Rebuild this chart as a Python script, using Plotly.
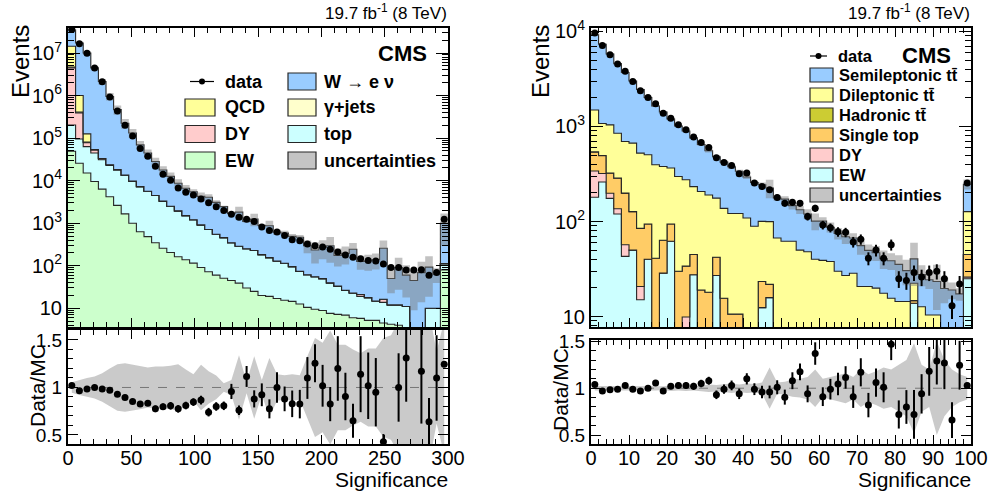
import numpy as np
import plotly.graph_objects as go

# ---------------- LEFT PANEL DATA (W -> e nu selection) ----------------
left_edges = list(range(0, 301, 6))
left_EW = [49000, 25700, 15100, 9550, 6310, 4170, 2630, 1660, 1000, 630, 484, 347, 257, 204, 162, 138, 115, 91, 72, 60,
           51, 45, 39, 30, 25, 20, 19, 17, 15.5, 14.5, 12.6, 10.5, 9.5, 8.9, 7.6, 7.2, 6.9, 6.0, 5.8, 5.2,
           5.2, 4.5, 4.2, 4.0, 3.5, 1.2, 1.0, 3.2, 3.2, 80]
left_top = [155000, 69800, 48000, 35150, 24600, 18700, 15200, 11800, 8770, 6610, 5140, 4120, 3050, 2300, 1790, 1370,
            1085, 821, 636, 490, 406, 302, 249, 221, 204, 162, 136, 112, 99, 81, 61, 51, 45.5, 41, 32, 26, 19.4, 16.9,
            13.2, 12.6, 9.6, 9.3, 7.8, 8, 7.5, 0.8, 1.0, 6.8, 6.8, 32]
left_DY = [4270000, 293500, 14500, 7800, 2000, 800, 300, 0, 0, 0, 0, 0, 0, 0, 0, 0, 0, 0, 0, 0,
           0, 0, 0, 0, 0, 0, 0, 0, 0, 0, 0, 0, 0, 0, 0, 0, 0, 0, 2, 0, 0, 2.5, 0, 0, 0, 0, 0, 0, 0, 0]
left_gjets = [200000, 20000, 3000, 500] + [0] * 46
left_QCD = [9780000, 591000, 45400, 1000, 300] + [0] * 45
left_W = [20200000, 16200000, 9870000, 4410000, 2100000, 930000, 450000, 210000, 122000, 62000, 39000, 23700, 14500,
          10100, 6760, 5100, 4300, 3360, 3360, 2540, 1990, 1350, 1530, 850, 1030, 700, 716, 488, 474, 394, 394, 233,
          179, 219, 255, 141, 169, 222, 105, 111, 123, 241, 38, 79, 49, 43, 67, 83, 53, 877]
left_data = [35500000, 16600000, 9850000, 4470000, 2100000, 927000, 435000, 200000, 112000, 57000, 37300, 21800, 14200,
             10200, 6750, 5350, 4630, 3720, 3020, 2450, 2000, 1620, 1380, 1230, 1100, 813, 676, 617, 513, 407, 389,
             324, 295, 275, 245, 209, 178, 158, 145, 132, 129, 110, 91, 91, 79, 79, 81, 60, 69, 1230]
left_ratio = [1.02, 0.965, 0.985, 1.0, 0.985, 0.97, 0.93, 0.895, 0.853, 0.825, 0.835, 0.775, 0.797, 0.807, 0.775,
              0.81, 0.846, 0.867, 0.74, 0.8, 0.807, 0.958, 0.76, 1.116, 0.88, 0.923, 0.775, 1.0, 0.88, 0.828, 0.825,
              1.1, 1.256, 1.018, 0.825, 1.2, 0.905, 0.65, 1.14, 1.018, 0.95, 0.43, None, 1.0, 1.31, None, 1.17, 0.64,
              1.1, 1.245]
left_ratio_err = [0.01, 0.01, 0.01, 0.01, 0.01, 0.012, 0.015, 0.015, 0.02, 0.02, 0.025, 0.035, 0.035, 0.04, 0.04,
                  0.04, 0.04, 0.045, 0.045, 0.045, 0.045, 0.08, 0.05, 0.11, 0.09, 0.12, 0.1, 0.16, 0.13, 0.14, 0.15,
                  0.22, 0.2, 0.22, 0.18, 0.34, 0.25, 0.18, 0.4, 0.35, 0.36, 0.08, 0, 0.36, 0.46, 0, 0.55, 0.25, 0.45,
                  0.03]
left_band = [0.055, 0.08, 0.1, 0.115, 0.15, 0.2, 0.245, 0.255, 0.24, 0.23, 0.21, 0.22, 0.22, 0.23, 0.245, 0.19, 0.14,
             0.24, 0.17, 0.125, 0.045, 0.08, 0.34, 0.06, 0.33, 0.08, 0.31, 0.14, 0.13, 0.14, 0.13, 0.33, 0.52, 0.47,
             0.6, 0.45, 0.45, 0.4, 0.36, 0.41, 0.41, 0.52, 0.55, 0.7, 0.7, 0.8, 0.8, 0.8, 0.38, 0.7]

# ---------------- RIGHT PANEL DATA (ttbar selection) ----------------
right_edges = list(range(0, 101, 2))
right_EW = [180, 260, 175, 120, 43, 50, 15, 40, 0, 28.6, 62, 0, 0, 27.5, 0, 0, 27, 0, 0, 0, 0, 0, 12.4, 15.8] + \
           [0] * 18 + [13.8] + [0] * 6 + [25]
right_DY = [160, 60, 23, 16, 14, 0, 5.7, 0, 0, 0, 0, 0, 9.9] + [0] * 36 + [1]
right_ST = [196, 171, 124, 149, 142, 77, 64, 54, 41, 35, 32, 30, 24, 17.5, 19, 18, 15, 15.6, 10.6, 10.6, 0, 0, 11, 6] + \
           [0] * 18 + [0.9] + [0] * 6 + [19]
right_had = [5, 3, 2, 1] + [0] * 46
right_dilep = [949, 581, 715, 563, 496, 541, 440, 410, 354, 316, 271, 268, 241, 188, 188, 172, 134, 122, 111, 111, 109,
               89, 77, 78, 67, 62, 62, 50, 48, 40, 39, 38, 30, 27, 28.5, 20.7, 20.7, 19.9, 17.6, 15.6, 14.4, 14.4, 7.7,
               12.7, 10.4, 10.4, 0, 0, 0, 82]
right_semi = [7730, 6265, 4740, 3739, 2995, 2342, 1925, 1516, 1245, 1040, 835, 712, 621, 525, 440, 366, 304, 284, 255,
              216, 185, 168, 143, 125, 110, 110, 85, 83, 72, 61, 62, 49, 45, 42, 38.5, 35, 29, 27, 23, 23, 21, 16, 18,
              15, 14, 13, 19.7, 19, 17.3, 120]
right_data = [9600, 7130, 5690, 4540, 3800, 2980, 2380, 2020, 1730, 1380, 1220, 1040, 923, 773, 679, 601, 468, 418, 388,
              318, 323, 254, 233, 216, 179, 156, 159, 156, 113, 138, 92, 86, 78, 77, 61, 65, 41, 50, 41, 57, 25, 24, 29,
              26, 29, 30, 25, 13, 22, 254]
right_ratio = [1.04, 0.97, 0.985, 0.99, 1.03, 0.99, 0.97, 1.0, 1.055, 0.97, 1.02, 1.03, 1.03, 1.02, 1.05, 1.08, 0.93,
               0.99, 1.03, 0.94, 1.10, 0.99, 0.96, 0.96, 1.01, 0.905, 1.08, 1.175, 0.94, 1.37, 0.91, 0.99, 1.045, 1.115,
               0.91, 1.17, 0.82, 1.06, 1.01, 1.47, 0.72, 0.80, 0.72, 0.94, 1.18, 1.29, 1.27, 0.66, 1.245, 1.03]
right_ratio_err = [0.012, 0.013, 0.015, 0.016, 0.018, 0.02, 0.022, 0.024, 0.026, 0.028, 0.03, 0.032, 0.034, 0.037,
                   0.04, 0.042, 0.046, 0.05, 0.052, 0.056, 0.06, 0.063, 0.066, 0.068, 0.075, 0.08, 0.09, 0.09, 0.09,
                   0.12, 0.1, 0.11, 0.12, 0.12, 0.12, 0.15, 0.13, 0.15, 0.16, 0.17, 0.15, 0.18, 0.26, 0.21, 0.26, 0.25,
                   0.28, 0.19, 0.26, 0.03]
right_band = [0.025, 0.025, 0.02, 0.02, 0.025, 0.02, 0.02, 0.025, 0.025, 0.02, 0.03, 0.025, 0.03, 0.025, 0.03, 0.04,
              0.035, 0.04, 0.05, 0.04, 0.05, 0.045, 0.06, 0.22, 0.06, 0.07, 0.09, 0.1, 0.12, 0.2, 0.1, 0.12, 0.14, 0.16,
              0.12, 0.2, 0.15, 0.18, 0.22, 0.2, 0.25, 0.3, 0.48, 0.25, 0.2, 0.5, 0.3, 0.2, 0.15, 0.12]

FONT = "Liberation Sans, Arial, Helvetica, sans-serif"
LINE = "#262626"

fig = go.Figure()


def add_panel(edges, comps, colors, data, ratio, ratio_err, band, xa, ya, xr, yr):
    edges = np.array(edges, dtype=float)
    centers = 0.5 * (edges[:-1] + edges[1:])
    n = len(centers)
    floor = 1e-3
    fig.add_trace(go.Scatter(x=edges, y=[floor] * (n + 1), mode="lines", line=dict(width=0, shape="hv"),
                             xaxis=xa, yaxis=ya, showlegend=False, hoverinfo="skip"))
    cum = np.zeros(n)
    for comp, col in zip(comps, colors):
        cum = cum + np.array(comp, dtype=float)
        y = np.maximum(cum, floor)
        fig.add_trace(go.Scatter(x=edges, y=list(y) + [y[-1]], mode="lines",
                                 line=dict(shape="hv", color=LINE, width=1.1),
                                 fill="tonexty", fillcolor=col, xaxis=xa, yaxis=ya,
                                 showlegend=False, hoverinfo="skip"))
    total = cum
    rel = np.array(band)
    lo = total * (1 - rel)
    hi = total * (1 + rel)
    fig.add_trace(go.Scatter(x=edges, y=list(lo) + [lo[-1]], mode="lines", line=dict(width=0, shape="hv"),
                             xaxis=xa, yaxis=ya, showlegend=False, hoverinfo="skip"))
    fig.add_trace(go.Scatter(x=edges, y=list(hi) + [hi[-1]], mode="lines", line=dict(width=0, shape="hv"),
                             fill="tonexty", fillcolor="rgba(120,120,120,0.45)", xaxis=xa, yaxis=ya,
                             showlegend=False, hoverinfo="skip"))
    d = np.array(data, dtype=float)
    fig.add_trace(go.Scatter(x=centers, y=d, mode="markers",
                             marker=dict(color="black", size=7),
                             error_y=dict(type="data", array=np.sqrt(d), color="black", thickness=2, width=0),
                             xaxis=xa, yaxis=ya, showlegend=False, hoverinfo="skip"))
    bx = list(centers) + list(centers[::-1])
    by = list(1 + rel) + list((1 - rel)[::-1])
    fig.add_trace(go.Scatter(x=bx, y=by, mode="lines", line=dict(width=0), fill="toself",
                             fillcolor="rgba(150,150,150,0.5)", xaxis=xr, yaxis=yr,
                             showlegend=False, hoverinfo="skip"))
    fig.add_trace(go.Scatter(x=[edges[0], edges[-1]], y=[1, 1], mode="lines",
                             line=dict(color="#777777", width=1, dash="dash"), xaxis=xr, yaxis=yr,
                             showlegend=False, hoverinfo="skip"))
    fig.add_trace(go.Scatter(x=centers, y=ratio, mode="markers",
                             marker=dict(color="black", size=7),
                             error_y=dict(type="data", array=ratio_err, color="black", thickness=2, width=0),
                             xaxis=xr, yaxis=yr, showlegend=False, hoverinfo="skip"))


left_colors = ["#ccffcc", "#ccffff", "#ffcccc", "#ffffcc", "#ffff99", "#99ccff"]
add_panel(left_edges, [left_EW, left_top, left_DY, left_gjets, left_QCD, left_W], left_colors,
          left_data, left_ratio, left_ratio_err, left_band, "x", "y", "x2", "y2")
right_colors = ["#ccffff", "#ffcccc", "#ffcc66", "#cccc33", "#ffff99", "#99ccff"]
add_panel(right_edges, [right_EW, right_DY, right_ST, right_had, right_dilep, right_semi], right_colors,
          right_data, right_ratio, right_ratio_err, right_band, "x3", "y3", "x4", "y4")

W, H = 991, 495


def px(xp):
    return xp / W


def py(yp):
    return 1 - yp / H


LX = [px(68), px(448)]
RX = [px(591), px(971)]
TOPY = [py(327), py(28)]
RATY_L = [py(444), py(330)]
RATY_R = [py(444), py(340)]

base_axis = dict(showline=True, linecolor="black", linewidth=2, mirror="allticks", ticks="inside",
                 tickcolor="black", tickwidth=1, zeroline=False, showgrid=False, automargin=False,
                 tickfont=dict(family=FONT, size=20, color="black"))


def logminor(dmin, dmax):
    return [k * 10 ** d for d in range(dmin, dmax + 1) for k in range(2, 10)]


def xaxis(domain, anchor, rng, major, minor, labels):
    a = dict(base_axis)
    a.update(domain=domain, anchor=anchor, range=rng, tickmode="array", tickvals=major,
             ticktext=[str(v) for v in major], ticklen=9, showticklabels=labels,
             minor=dict(ticks="inside", tickmode="array", tickvals=minor, ticklen=5, tickcolor="black"))
    return a


def ylog(domain, anchor, rng, dmax):
    vals = [10 ** d for d in range(1, dmax + 1)]
    txt = ["10"] + ["10<sup>%d</sup>" % d for d in range(2, dmax + 1)]
    a = dict(base_axis)
    a.update(domain=domain, anchor=anchor, type="log", range=rng, tickmode="array", tickvals=vals,
             ticktext=txt, ticklen=12,
             minor=dict(ticks="inside", tickmode="array", tickvals=logminor(0, dmax), ticklen=6,
                        tickcolor="black"))
    a["tickfont"] = dict(family=FONT, size=20, color="black")
    return a


def yratio(domain, anchor, top):
    a = dict(base_axis)
    a.update(domain=domain, anchor=anchor, range=[0.405, top], tickmode="array",
             tickvals=[0.5, 1, 1.5], ticktext=["0.5", "1", "1.5"], ticklen=10,
             minor=dict(ticks="inside", tickmode="array",
                        tickvals=[0.5 + 0.1 * i for i in range(11)], ticklen=5, tickcolor="black"))
    a["tickfont"] = dict(family=FONT, size=19, color="black")
    return a


left_major = list(range(0, 301, 50))
left_minor = list(range(0, 301, 10))
right_major = list(range(0, 101, 10))
right_minor = list(range(0, 101, 2))

fig.update_layout(
    template="none",
    width=W, height=H, margin=dict(l=0, r=0, t=0, b=0, pad=0), autosize=False,
    paper_bgcolor="white", plot_bgcolor="white", showlegend=False,
    xaxis=xaxis(LX, "y", [0, 300], left_major, left_minor, False),
    yaxis=ylog(TOPY, "x", [0.56, 7.588], 7),
    xaxis2=xaxis(LX, "y2", [0, 300], left_major, left_minor, True),
    yaxis2=yratio(RATY_L, "x2", 1.605),
    xaxis3=xaxis(RX, "y3", [0, 100], right_major, right_minor, False),
    yaxis3=ylog(TOPY, "x3", [0.89, 4.036], 4),
    xaxis4=xaxis(RX, "y4", [0, 100], right_major, right_minor, True),
    yaxis4=yratio(RATY_R, "x4", 1.5145),
)
try:
    fig.update_layout(xaxis2=dict(ticklabelstandoff=-5), xaxis4=dict(ticklabelstandoff=-5))
except Exception:
    pass

ann = []
shapes = []


def text(x, y, s, size, bold=False, xanchor="left", angle=0):
    ann.append(dict(x=px(x), y=py(y), xref="paper", yref="paper", text=("<b>%s</b>" % s) if bold else s,
                    showarrow=False, xanchor=xanchor, yanchor="middle", textangle=angle,
                    font=dict(family=FONT, size=size, color="black")))


text(20, 62, "Events", 24, xanchor="center", angle=-90)
text(540, 62, "Events", 24, xanchor="center", angle=-90)
text(37, 386, "Data/MC", 21, xanchor="center", angle=-90)
text(560, 390, "Data/MC", 21, xanchor="center", angle=-90)
text(450, 479, "Significance", 21, xanchor="right")
text(973, 479, "Significance", 21, xanchor="right")
text(449, 12, "19.7 fb<sup>-1</sup> (8 TeV)", 17, xanchor="right")
text(972, 12, "19.7 fb<sup>-1</sup> (8 TeV)", 17, xanchor="right")
text(429, 53, "CMS", 22, bold=True, xanchor="right")
text(953, 55, "CMS", 22, bold=True, xanchor="right")


def box(x0, y0, x1, y1, color):
    shapes.append(dict(type="rect", xref="paper", yref="paper", x0=px(x0), x1=px(x1), y0=py(y1), y1=py(y0),
                       fillcolor=color, line=dict(color=LINE, width=1.2)))


def data_sample(x0, x1, y):
    shapes.append(dict(type="line", xref="paper", yref="paper", x0=px(x0), x1=px(x1), y0=py(y), y1=py(y),
                       line=dict(color="black", width=1.2)))
    xc = 0.5 * (x0 + x1)
    shapes.append(dict(type="circle", xref="paper", yref="paper", x0=px(xc - 3), x1=px(xc + 3),
                       y0=py(y + 3), y1=py(y - 3), fillcolor="black", line=dict(color="black", width=0)))


rows_l = [81.5, 107.5, 134, 160.5]
data_sample(190, 214, rows_l[0])
text(223, rows_l[0], "data", 18, bold=True)
left_leg1 = [("QCD", "#ffff99"), ("DY", "#ffcccc"), ("EW", "#ccffcc")]
for (lab, col), yy in zip(left_leg1, rows_l[1:]):
    box(185, yy - 8.5, 215, yy + 8.5, col)
    text(223, yy, lab, 18, bold=True)
left_leg2 = [("W → e ν", "#99ccff"), ("γ+jets", "#ffffcc"), ("top", "#ccffff"),
             ("uncertainties", "#c4c4c4")]
for (lab, col), yy in zip(left_leg2, rows_l):
    box(288, yy - 8.5, 316, yy + 8.5, col)
    text(322, yy, lab, 18, bold=True)

rows_r = [56, 75, 95, 115, 135, 155, 175, 195]
data_sample(810, 827, rows_r[0])
text(836, rows_r[0], "data", 16.5, bold=True)
tt = "t" + "t\u0304"
right_leg = [("Semileptonic " + tt, "#99ccff"), ("Dileptonic " + tt, "#ffff99"),
             ("Hadronic " + tt, "#cccc33"), ("Single top", "#ffcc66"), ("DY", "#ffcccc"),
             ("EW", "#ccffff"), ("uncertainties", "#c4c4c4")]
for (lab, col), yy in zip(right_leg, rows_r[1:]):
    box(810, yy - 7, 833, yy + 7, col)
    text(837, yy, lab, 16.5, bold=True)

fig.update_layout(annotations=ann, shapes=shapes)
fig.write_html("out.html", config={"displayModeBar": False},
               post_script="document.body.style.margin='0px';document.body.style.padding='0px';"
                           "document.body.style.overflow='hidden';")
